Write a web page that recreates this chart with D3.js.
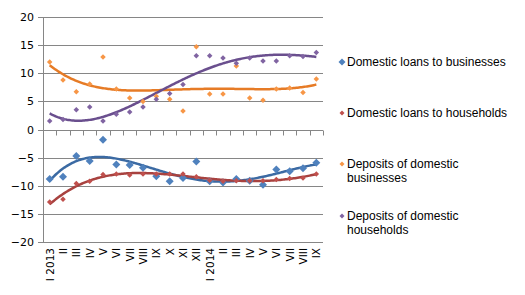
<!DOCTYPE html>
<html>
<head>
<meta charset="utf-8">
<script src="https://cdn.jsdelivr.net/npm/d3@7"></script>
<style>
  body { margin: 0; background: #fff; }
  svg { display: block; }
</style>
</head>
<body>
<div id="chart"></div>
<script>
const WIDTH = 525, HEIGHT = 295;
const MARGIN = { top: 17, right: 202, bottom: 53, left: 43 };
const INNER_WIDTH = WIDTH - MARGIN.left - MARGIN.right;
const INNER_HEIGHT = HEIGHT - MARGIN.top - MARGIN.bottom;

// month labels
const months = ["I 2013", "II", "III", "IV", "V", "VI", "VII", "VIII", "IX", "X", "XI", "XII",
  "I 2014", "II", "III", "IV", "V", "VI", "VII", "VIII", "IX"];

const yTicks = [-20, -15, -10, -5, 0, 5, 10, 15, 20];

const loansBusinesses = [-8.8, -8.4, -4.7, -5.6, -1.8, -6.2, -6.3, -6.8, -8.3, -9.2, -8.6,
  -5.7, -9.2, -9.4, -8.8, -9.1, -9.8, -7.1, -7.4, -6.9, -5.9];
const loansHouseholds = [-12.9, -12.4, -9.6, -9.2, -8.0, -7.9, -8.1, -7.9, -7.9, -7.9, -7.9,
  -8.4, -9.0, -9.2, -9.1, -9.1, -9.1, -8.9, -8.7, -8.6, -7.9];
const depositsBusinesses = [12.0, 8.8, 6.7, 8.1, 12.9, 7.2, 5.6, 5.0, 5.9, 5.4, 3.3,
  14.7, 6.3, 6.3, 11.3, 5.6, 5.2, 7.2, 7.4, 6.6, 9.0];
const depositsHouseholds = [1.5, 1.8, 3.5, 4.0, 1.5, 2.7, 3.1, 4.0, 5.4, 6.4, 8.0,
  13.1, 13.1, 12.7, 11.8, 12.7, 12.2, 12.2, 13.1, 13.0, 13.7];

const seriesNames = ["Domestic loans to businesses", "Domestic loans to households",
  "Deposits of domestic businesses", "Deposits of domestic households"];

const series = [
  { name: seriesNames[0], values: loansBusinesses, color: "#4f81bd", trend: "#3b6aa3", size: 8 },
  { name: seriesNames[1], values: loansHouseholds, color: "#c0504d", trend: "#a8423f", size: 5.5 },
  { name: seriesNames[2], values: depositsBusinesses, color: "#f79646", trend: "#e67b26", size: 5.5 },
  { name: seriesNames[3], values: depositsHouseholds, color: "#8064a2", trend: "#6a4f8e", size: 5.5 }
];

const TREND_ORDER = 4;

// least squares polynomial (like the excel trendline), x scaled for stability
function polyFit(ys, order) {
  const n = order + 1;
  const sc = x => (x - 11) / 10;
  const A = Array.from({ length: n }, () => new Array(n + 1).fill(0));
  ys.forEach((y, i) => {
    const t = sc(i + 1);
    for (let r = 0; r < n; r++) {
      for (let c = 0; c < n; c++) A[r][c] += Math.pow(t, r + c);
      A[r][n] += y * Math.pow(t, r);
    }
  });
  for (let col = 0; col < n; col++) {
    let p = col;
    for (let r = col + 1; r < n; r++) if (Math.abs(A[r][col]) > Math.abs(A[p][col])) p = r;
    [A[col], A[p]] = [A[p], A[col]];
    for (let r = 0; r < n; r++) {
      if (r === col) continue;
      const f = A[r][col] / A[col][col];
      for (let c = col; c <= n; c++) A[r][c] -= f * A[col][c];
    }
  }
  const coef = A.map((row, i) => row[n] / row[i]);
  return x => coef.reduce((s, a, k) => s + a * Math.pow(sc(x), k), 0);
}

const svg = d3.select("#chart")
  .append("svg")
  .attr("width", WIDTH)
  .attr("height", HEIGHT)
  .append("g")
  .attr("transform", `translate(${MARGIN.left}, ${MARGIN.top})`);

const x = d3.scaleBand()
  .domain(d3.range(months.length))
  .range([0, INNER_WIDTH]);

const y = d3.scaleLinear()
  .domain([-20, 20])
  .range([INNER_HEIGHT, 0]);

const xc = i => x(i) + x.bandwidth() / 2;

const gridColor = "#868686";

// gridlines
svg.append("g")
  .selectAll("line")
  .data(yTicks)
  .join("line")
  .attr("x1", -5)
  .attr("x2", INNER_WIDTH)
  .attr("y1", d => Math.round(y(d)) + 0.5)
  .attr("y2", d => Math.round(y(d)) + 0.5)
  .attr("stroke", gridColor)
  .attr("stroke-width", 1);

// y axis
const yAxis = svg.append("g")
  .call(d3.axisLeft(y).tickValues(yTicks).tickSize(0).tickPadding(9));
yAxis.select(".domain").remove();
yAxis.selectAll("text")
  .style("font-family", "DejaVu Sans, Verdana, sans-serif")
  .style("font-size", "11px")
  .attr("fill", "#000");

svg.append("line")
  .attr("x1", 0.5).attr("x2", 0.5)
  .attr("y1", 0).attr("y2", INNER_HEIGHT)
  .attr("stroke", gridColor);

// x axis at zero with ticks at category boundaries
const zeroY = Math.round(y(0)) + 0.5;
svg.append("g")
  .selectAll("line")
  .data(d3.range(months.length + 1))
  .join("line")
  .attr("x1", d => Math.round(d * x.step()) + 0.5)
  .attr("x2", d => Math.round(d * x.step()) + 0.5)
  .attr("y1", zeroY)
  .attr("y2", zeroY + 5)
  .attr("stroke", gridColor);

// x labels at the bottom, rotated
svg.append("g")
  .selectAll("text")
  .data(months)
  .join("text")
  .attr("transform", (d, i) => `translate(${xc(i) + 4}, ${INNER_HEIGHT + 6}) rotate(-90)`)
  .attr("text-anchor", "end")
  .style("font-family", "DejaVu Sans, Verdana, sans-serif")
  .style("font-size", "10.5px")
  .text(d => d);

// trend lines
const line = d3.line()
  .x(d => x.step() * (d.x - 0.5))
  .y(d => y(d.y));

series.forEach(s => {
  const f = polyFit(s.values, TREND_ORDER);
  const pts = d3.range(1, months.length + 0.001, 0.1).map(t => ({ x: t, y: f(t) }));
  svg.append("path")
    .datum(pts)
    .attr("d", line)
    .attr("fill", "none")
    .attr("stroke", s.trend)
    .attr("stroke-width", 2.5);
});

// points
const diamond = r => `M0,${-r}L${r},0L0,${r}L${-r},0Z`;

series.forEach(s => {
  svg.append("g")
    .selectAll("path")
    .data(s.values)
    .join("path")
    .attr("transform", (d, i) => `translate(${xc(i)}, ${y(d)})`)
    .attr("d", diamond(s.size / 2))
    .attr("fill", s.color);
});

// legend
const legend = svg.append("g")
  .attr("transform", `translate(${INNER_WIDTH + 19}, 0)`);

const legendRows = [
  { lines: ["Domestic loans to businesses"], y: 45 },
  { lines: ["Domestic loans to households"], y: 96 },
  { lines: ["Deposits of domestic", "businesses"], y: 147 },
  { lines: ["Deposits of domestic", "households"], y: 199 }
];

legendRows.forEach((r, k) => {
  const g = legend.append("g").attr("transform", `translate(0, ${r.y})`);
  g.append("path")
    .attr("d", diamond(k === 0 ? 3.5 : 2.5))
    .attr("fill", series[k].color);
  g.selectAll("text")
    .data(r.lines)
    .join("text")
    .attr("x", 5)
    .attr("y", (d, j) => j * 14)
    .attr("dy", "0.35em")
    .style("font-family", "Liberation Sans, Arial, sans-serif")
    .style("font-size", "12px")
    .text(d => d);
});
</script>
</body>
</html>
